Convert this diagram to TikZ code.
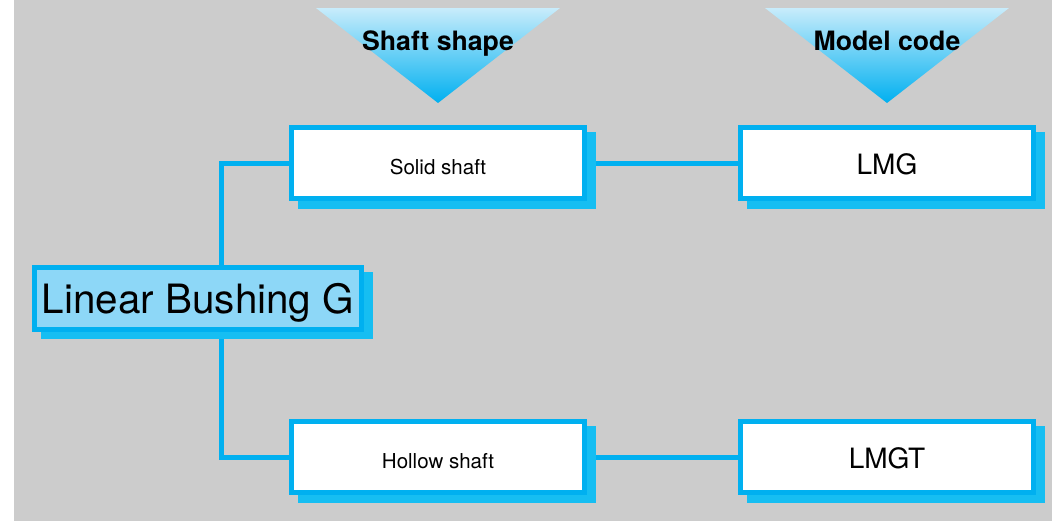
\documentclass[tikz,border=0pt]{standalone}
\usepackage{fontspec}
\setmainfont{TeX Gyre Heros}
\definecolor{bggrey}{RGB}{204,204,204}
\definecolor{bl}{RGB}{0,176,240}
\definecolor{sh}{RGB}{22,190,242}
\definecolor{lbfill}{RGB}{141,215,247}
\definecolor{trtop}{RGB}{200,236,251}
\definecolor{trmid}{RGB}{70,200,242}
\pgfdeclarelayer{back}
\pgfdeclarelayer{mid}
\pgfsetlayers{back,mid,main}
\begin{document}
\begin{tikzpicture}[x=0.75pt,y=-0.75pt,
  box/.style={draw=bl, line width=3.75pt, fill=white, minimum width=219.75pt,
    minimum height=53.6pt, inner sep=0pt, text depth=0pt,
    preaction={fill=sh, draw=sh, line width=3.75pt,
      transform canvas={xshift=6.5pt, yshift=-5.5pt}}},
  smallfont/.style={font=\fontsize{15.4}{18}\selectfont, text height=17pt},
  codefont/.style={font=\fontsize{21}{24}\selectfont, text height=17pt},
  tlabel/.style={font=\bfseries\fontsize{20}{24}\selectfont, inner sep=0pt, text depth=0pt},
  conn/.style={draw=bl, line width=3.75pt}]
\useasboundingbox (0,0) rectangle (1052,521);
\begin{pgfonlayer}{back}
  \fill[bggrey] (14,0) rectangle (1052,521);
\end{pgfonlayer}
% header triangles
\shade[top color=trtop, middle color=trmid, bottom color=bl] (316,8) -- (560,8) -- (438,103) -- cycle;
\shade[top color=trtop, middle color=trmid, bottom color=bl] (765,8) -- (1009,8) -- (887,103) -- cycle;
\node[tlabel] (t1) at (438,41) {Shaft shape};
\node[tlabel] (t2) at (887,41) {Model code};
% boxes
\node[box, smallfont] (solid) at (438,163) {Solid shaft};
\node[box, codefont] (lmg) at (887,163) {LMG};
\node[box, smallfont] (hollow) at (438,457) {Hollow shaft};
\node[box, codefont] (lmgt) at (887,457) {LMGT};
\node[box, fill=lbfill, minimum width=245.25pt, minimum height=46.5pt,
  font=\fontsize{30.3}{34}\selectfont] (lbg) at (198,298.5) {Linear Bushing G};
\coordinate (j) at (221.5,298.5);
\begin{pgfonlayer}{mid}
  \draw[conn] (solid.east) -- (lmg.west);
  \draw[conn] (hollow.east) -- (lmgt.west);
  \draw[conn] (solid.west) -| (j) |- (hollow.west);
\end{pgfonlayer}
\end{tikzpicture}
\end{document}
